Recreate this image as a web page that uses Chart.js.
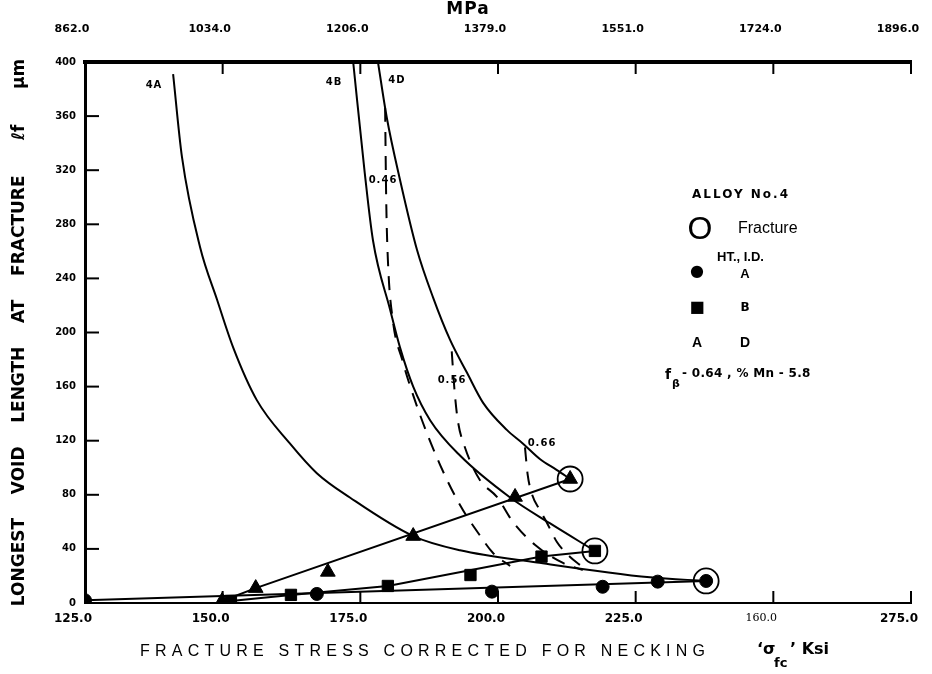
<!DOCTYPE html>
<html>
<head>
<meta charset="utf-8">
<script src="https://cdn.jsdelivr.net/npm/chart.js@4.4.1/dist/chart.umd.min.js"></script>
<style>
  html, body { margin: 0; padding: 0; background: #fff; }
  #wrap { width: 932px; height: 674px; position: relative; }
</style>
</head>
<body>
<div id="wrap"><canvas id="chart" width="932" height="674"></canvas></div>
<script>
// axes
const xTicks = [125, 150, 175, 200, 225, 250, 275];
const ksiLabels = ['125.0', '150.0', '175.0', '200.0', '225.0', '160.0', '275.0'];
const mpaLabels = ['862.0', '1034.0', '1206.0', '1379.0', '1551.0', '1724.0', '1896.0'];
const yTicks = [0, 40, 80, 120, 160, 200, 240, 280, 320, 360, 400];

// measured points (ksi, um)
const pointsA = [[125, 2], [167.1, 6.7], [198.9, 8.4], [219, 12], [229, 15.8], [237.8, 16.3]];
const pointsB = [[151.5, 1.5], [162.4, 6], [180, 12.6], [195, 20.7], [207.9, 34.3], [217.6, 38.5]];
const pointsD = [[149.9, 1.5], [156, 11], [169.1, 23], [184.6, 49.5], [203.1, 78.4], [213.1, 91.7]];
const fracture = [[213.1, 91.7], [217.6, 38.5], [237.8, 16.3]];

// lines drawn through the points
const lineA = [[125, 2], [237.8, 16.3]];
const lineB = [[151.5, 1.5], [162.4, 6], [180, 12.6], [207.9, 34.3], [217.6, 38.5]];
const lineD = [[149.9, 1.5], [156, 11], [213.1, 91.7]];

// solid curves
const curve4A = [[141, 391], [142.6, 330], [145.9, 263], [149, 224], [151.9, 189], [156.2, 150], [162.2, 118],
  [167.1, 96], [173.1, 78], [184.6, 49.5], [193.1, 39], [207.1, 30], [227.6, 19], [237.8, 16.3]];
const curve4B = [[173.7, 400], [175.8, 318], [177.3, 268], [180.4, 217], [182.2, 189], [184.6, 160], [187.7, 135],
  [193.1, 109], [202.2, 78], [209.4, 59], [217.6, 38.5]];
const curve4D = [[178.2, 400], [179.8, 359], [182.2, 313], [185.3, 261], [188.2, 226], [191.3, 194.5], [194.4, 170],
  [197.3, 148], [201.6, 128], [204.5, 118], [207.6, 106.5], [210.7, 98.3], [213.1, 91.7]];

// dashed curves
const dash046 = [[179.5, 366], [179.7, 298], [180, 254], [180.9, 209], [182.6, 180], [185.5, 143], [189.5, 102],
  [193.1, 72.5], [196.7, 50], [199.1, 37], [202.2, 27.4]];
const dash056 = [[191.6, 186], [192.1, 157.5], [192.7, 135], [194, 115], [196.7, 91], [199.8, 78.4], [202.7, 60],
  [206.7, 43], [211.8, 29.6], [215.4, 24.4]];
const dash066 = [[204.9, 115], [205.4, 94.6], [206.2, 80], [207.6, 68.8], [208.9, 59.2], [210.7, 45.1], [213.1, 34], [214.9, 28.1]];

const xy = arr => arr.map(p => ({ x: p[0], y: p[1] }));

function curve(data, dashed) {
  return {
    data: xy(data), showLine: true, borderColor: '#000', borderWidth: 2,
    borderDash: dashed ? [14, 10] : [], pointRadius: 0, cubicInterpolationMode: 'monotone', fill: false
  };
}
function marks(data, style, r) {
  return { data: xy(data), showLine: false, pointStyle: style, pointRadius: r, backgroundColor: '#000', borderColor: '#000', borderWidth: 1 };
}

// text on the chart
const curveLabels = [
  ['4A', 154, 85], ['4B', 334, 82], ['4D', 397, 80],
  ['0.46', 383, 180], ['0.56', 452, 380], ['0.66', 542, 443]
];

const BOLD = 'bold 10px "DejaVu Sans"';

const overlay = {
  id: 'overlay',
  afterDraw(chart) {
    const { ctx, chartArea: a, scales } = chart;
    ctx.save();
    // inward tick marks
    ctx.strokeStyle = '#000';
    ctx.lineWidth = 2;
    const seg = (x1, y1, x2, y2) => { ctx.beginPath(); ctx.moveTo(x1, y1); ctx.lineTo(x2, y2); ctx.stroke(); };
    scales.y.ticks.forEach(t => { const p = scales.y.getPixelForValue(t.value); seg(a.left, p, a.left + 14, p); });
    scales.x.ticks.forEach(t => { const p = scales.x.getPixelForValue(t.value); seg(p, a.bottom, p, a.bottom - 12); });
    scales.x2.ticks.forEach(t => { const p = scales.x2.getPixelForValue(t.value); seg(p, a.top, p, a.top + 12); });

    ctx.fillStyle = '#000';
    ctx.textBaseline = 'middle';
    const put = (s, x, y, font, align, ls) => {
      ctx.font = font; ctx.textAlign = align || 'left'; ctx.letterSpacing = (ls || 0) + 'px'; ctx.fillText(s, x, y);
    };

    curveLabels.forEach(([s, x, y]) => put(s, x, y, BOLD, 'center', 1));

    // top title
    put('MPa', 468, 10, 'bold 17px "DejaVu Sans"', 'center', 1);

    // bottom title, spread over its width
    const bt = 'FRACTURE STRESS CORRECTED FOR NECKING';
    ctx.font = '16px "Liberation Sans"';
    ctx.letterSpacing = '0px';
    const w = ctx.measureText(bt).width;
    put(bt, 140, 652, '16px "Liberation Sans"', 'left', (705 - 140 - w) / (bt.length - 1));
    put('\u2018\u03c3', 757, 650, 'bold 16px "DejaVu Sans"');
    put('fc', 774, 664, 'bold 13px "DejaVu Sans"');
    put('\u2019 Ksi', 790, 650, 'bold 16px "DejaVu Sans"');

    // key
    put('ALLOY No.4', 692, 195, 'bold 12px "DejaVu Sans"', 'left', 2);
    put('O', 700, 230, '32px "Liberation Sans"', 'center');
    put('Fracture', 738, 229, '16px "Liberation Sans"');
    put('HT., I.D.', 717, 257, 'bold 13px "Liberation Sans"');
    put('\u25cf', 697, 272, '16px "DejaVu Sans"', 'center');
    put('A', 745, 274, 'bold 13px "Liberation Sans"', 'center');
    put('\u25a0', 697, 308, '16px "DejaVu Sans"', 'center');
    put('B', 745, 308, 'bold 12px "DejaVu Sans"', 'center');
    put('A', 697, 343, 'bold 14px "Liberation Sans"', 'center');
    put('D', 745, 343, 'bold 14px "Liberation Sans"', 'center');
    put('f', 665, 375, 'bold 14px "DejaVu Sans"');
    put('\u03b2', 672, 384, 'bold 11px "DejaVu Sans"');
    put('- 0.64 , % Mn - 5.8', 682, 374, 'bold 12px "DejaVu Sans"', 'left', 0.3);
    ctx.restore();
  }
};

const noSidePad = s => { s.paddingLeft = 0; s.paddingRight = 0; };

new Chart(document.getElementById('chart'), {
  type: 'scatter',
  data: {
    datasets: [
      curve(curve4A), curve(curve4B), curve(curve4D),
      curve(dash046, true), curve(dash056, true), curve(dash066, true),
      { ...curve(lineA), cubicInterpolationMode: 'default', tension: 0 },
      { ...curve(lineB), cubicInterpolationMode: 'default', tension: 0 },
      { ...curve(lineD), cubicInterpolationMode: 'default', tension: 0 },
      marks(pointsA, 'circle', 6.5),
      marks(pointsB, 'rect', 8),
      marks(pointsD, 'triangle', 8.5),
      { data: xy(fracture), showLine: false, pointStyle: 'circle', pointRadius: 12.5, borderWidth: 1.8, borderColor: '#000', backgroundColor: 'rgba(0,0,0,0)' }
    ]
  },
  options: {
    responsive: false,
    animation: false,
    layout: { padding: { left: 0, right: 21, top: 0, bottom: 0 } },
    plugins: { legend: { display: false }, tooltip: { enabled: false } },
    scales: {
      x: {
        type: 'linear', position: 'bottom', min: 125, max: 275,
        afterBuildTicks: s => { s.ticks = xTicks.map(v => ({ value: v })); },
        afterFit: s => { s.height = 71; noSidePad(s); },
        grid: { display: false, drawTicks: false },
        border: { display: true, color: '#000', width: 2 },
        ticks: {
          padding: 9, labelOffset: -12, color: '#000', maxRotation: 0,
          font: c => (c.tick && c.tick.value === 250)
            ? { family: 'DejaVu Serif', size: 11, weight: 'normal' }
            : { family: 'DejaVu Sans', size: 12, weight: 'bold' },
          callback: v => ksiLabels[xTicks.indexOf(v)]
        }
      },
      x2: {
        type: 'linear', position: 'top', min: 125, max: 275, display: true,
        afterBuildTicks: s => { s.ticks = xTicks.map(v => ({ value: v })); },
        afterFit: s => { s.height = 62; noSidePad(s); },
        grid: { display: false, drawTicks: false },
        border: { display: true, color: '#000', width: 4 },
        ticks: {
          padding: 26, labelOffset: -13, color: '#000', maxRotation: 0,
          font: { family: 'DejaVu Sans', size: 11, weight: 'bold' },
          callback: v => mpaLabels[xTicks.indexOf(v)]
        }
      },
      y: {
        type: 'linear', min: 0, max: 400,
        afterBuildTicks: s => { s.ticks = yTicks.map(v => ({ value: v })); },
        afterFit: s => { s.width = 85; },
        grid: { display: false, drawTicks: false },
        border: { display: true, color: '#000', width: 3 },
        ticks: {
          padding: 9, color: '#000',
          font: { family: 'DejaVu Sans', size: 10, weight: 'bold' }
        },
        title: {
          display: true, color: '#000',
          text: 'LONGEST    VOID    LENGTH    AT    FRACTURE      \u2113f      \u03bcm',
          font: { family: 'DejaVu Sans', size: 17, weight: 'bold' },
          padding: { top: 9, bottom: 0 }
        }
      }
    }
  },
  plugins: [overlay]
});
</script>
</body>
</html>
